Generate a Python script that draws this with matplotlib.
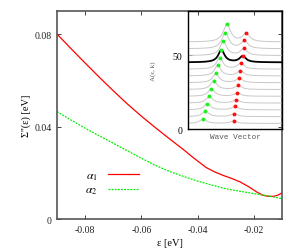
import numpy as np
import matplotlib
matplotlib.use("Agg")
import matplotlib.pyplot as plt

# ---- main panel data ----
eps_red = [-0.09, -0.085, -0.08, -0.075, -0.07, -0.065, -0.06, -0.055, -0.05, -0.045,
           -0.042, -0.04, -0.037, -0.034, -0.031, -0.028, -0.025, -0.022, -0.019,
           -0.017, -0.0155, -0.013, -0.0115, -0.01]
sig_red = [0.080, 0.0737, 0.0675, 0.0614, 0.0555, 0.0498, 0.0445, 0.0395, 0.0347, 0.0300,
           0.0270, 0.0251, 0.0223, 0.0204, 0.0189, 0.0176, 0.0161, 0.0141, 0.0117,
           0.0104, 0.0099, 0.0098, 0.0103, 0.0113]
eps_green = [-0.09, -0.085, -0.08, -0.075, -0.07, -0.065, -0.06, -0.055, -0.05, -0.045,
             -0.04, -0.035, -0.03, -0.025, -0.02, -0.015, -0.01]
sig_green = [0.0465, 0.0428, 0.0393, 0.0360, 0.0328, 0.0295, 0.0263, 0.0232, 0.0206, 0.0184,
             0.0164, 0.0147, 0.0131, 0.0120, 0.0110, 0.0100, 0.0088]
legend_labels = [r"$\alpha_1$", r"$\alpha_2$"]
xticks = [-0.08, -0.06, -0.04, -0.02]
xticklabels = ["-0.08", "-0.06", "-0.04", "-0.02"]
yticks = [0, 0.04, 0.08]
yticklabels = ["0", "0.04", "0.08"]

# ---- inset data (MDC stack) ----
offsets = [59.0, 54.4, 49.8, 45.2, 40.6, 36.0, 31.4, 26.8, 22.2, 17.6, 13.0, 8.4, 3.8]
k_green = [0.414, 0.397, 0.376, 0.355, 0.337, 0.316, 0.295, 0.274, 0.249, 0.228, 0.207, 0.186, 0.161]
k_red = [0.618, 0.600, 0.593, 0.582, 0.561, 0.558, 0.547, 0.537, 0.526, 0.513, 0.502, 0.492, 0.484]
amp_green = [12.0, 10.8, 9.7, 8.4, 7.7, 7.2, 6.3, 5.9, 5.2, 4.6, 4.2, 3.8, 3.1]
amp_red = [5.6, 5.2, 4.5, 4.2, 4.0, 3.4, 3.0, 2.6, 2.3, 2.3, 2.2, 2.0, 1.6]
width_green = [0.045, 0.044, 0.042, 0.040, 0.040, 0.040, 0.040, 0.040, 0.040, 0.040, 0.040, 0.040, 0.040]
width_red = [0.045, 0.044, 0.042, 0.040, 0.040, 0.040, 0.040, 0.040, 0.040, 0.040, 0.040, 0.040, 0.040]
black_index = 3
inset_yticks = [0, 50]

serif = ["Liberation Serif", "DejaVu Serif"]
plt.rcParams["mathtext.fontset"] = "stix"

fig = plt.figure(figsize=(2.99, 2.51), dpi=100)
ax = fig.add_axes([0.1906, 0.1235, 0.7525, 0.8287])
ax.plot(eps_red, sig_red, color="#ff0000", lw=0.9, label=legend_labels[0])
ax.plot(eps_green, sig_green, color="#00ee00", lw=0.9, ls=(0, (1.5, 1.0)), label=legend_labels[1])
ax.set_xlim(-0.09, -0.01)
ax.set_ylim(0, 0.09)
ax.set_xticks(xticks)
ax.set_xticklabels(xticklabels, family=serif, fontsize=7)
ax.set_yticks(yticks)
ax.set_yticklabels(yticklabels, family=serif, fontsize=7)
ax.tick_params(direction="in", length=3, width=0.6, top=True, right=True, pad=4, colors="#222222")
for s in ax.spines.values():
    s.set_color("#555555")
    s.set_linewidth(1.2)
ax.set_xlabel(r"ε [eV]", family=serif, fontsize=7.5, labelpad=3)
ax.set_ylabel(r"Σ''(ε) [eV]", family=serif, fontsize=7.5, labelpad=2)

leg = ax.legend(loc="center left", bbox_to_anchor=(0.105, 0.176), frameon=False,
                markerfirst=False, handlelength=2.6, handletextpad=0.9,
                labelspacing=0.05, fontsize=8.5, borderaxespad=0)

# ---- inset ----
ins = fig.add_axes([0.6288, 0.482, 0.3144, 0.470])
ins.patch.set_alpha(0)
k = np.linspace(0, 1, 500)
for i in range(len(offsets)):
    yv = (offsets[i]
          + amp_green[i] * width_green[i] ** 2 / ((k - k_green[i]) ** 2 + width_green[i] ** 2)
          + amp_red[i] * width_red[i] ** 2 / ((k - k_red[i]) ** 2 + width_red[i] ** 2))
    if i == black_index:
        ins.plot(k, yv, color="black", lw=1.3, zorder=3)
    else:
        ins.plot(k, yv, color="#c8c8c8", lw=0.7, zorder=2)
for i in range(len(offsets)):
    gpk = (offsets[i] + amp_green[i]
           + amp_red[i] * width_red[i] ** 2 / ((k_green[i] - k_red[i]) ** 2 + width_red[i] ** 2))
    rpk = (offsets[i] + amp_red[i]
           + amp_green[i] * width_green[i] ** 2 / ((k_red[i] - k_green[i]) ** 2 + width_green[i] ** 2))
    ins.plot(k_green[i], gpk, "o", color="#22ee22", ms=2.8, mec="none", zorder=4)
    ins.plot(k_red[i], rpk, "o", color="#ff1010", ms=2.8, mec="none", zorder=4)
ins.set_xlim(0, 1)
ins.set_ylim(0, 80)
ins.set_xticks([])
ins.set_yticks(inset_yticks)
ins.set_yticklabels([str(v) for v in inset_yticks], family=serif, fontsize=7)
ins.tick_params(direction="in", length=3, width=0.6, pad=4)
for s in ins.spines.values():
    s.set_color("black")
    s.set_linewidth(1.0)
ins.set_xlabel("Wave Vector", family=["Liberation Mono", "DejaVu Sans Mono"], fontsize=5.5,
               color="#555555", labelpad=3)
ins.set_ylabel("A(ε, k)", family=serif, fontsize=5, color="#555555", labelpad=12)

fig.savefig("out.png", dpi=100)
